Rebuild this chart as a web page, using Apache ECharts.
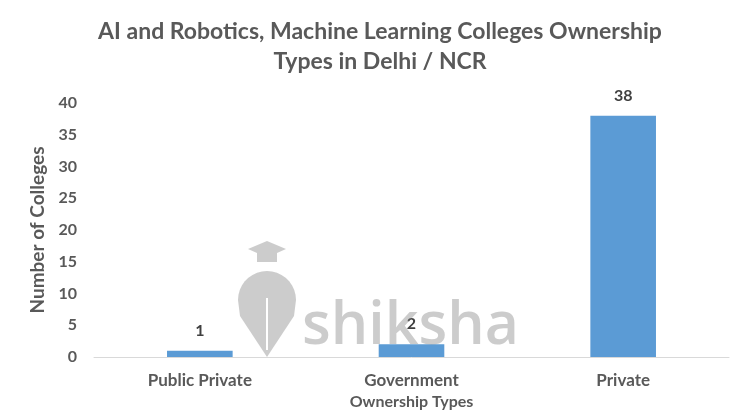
<!DOCTYPE html>
<html>
<head>
<meta charset="utf-8">
<script src="https://cdn.jsdelivr.net/npm/echarts@6/dist/echarts.min.js"></script>
<style>
  html, body { margin: 0; padding: 0; background: #fff; }
  #chart { width: 750px; height: 414px; }
</style>
</head>
<body>
<div id="chart"></div>
<script>
// Ownership types and college counts
const categories = ['Public Private', 'Government', 'Private'];
const collegeCounts = [1, 2, 38];
const yTicks = { min: 0, max: 40, interval: 5 };

const FONT = 'Lato, "Open Sans", sans-serif';
const GREY = '#595959';
const MARK = 'rgba(128,128,128,0.4)';

// Outline of the logo figure: rounded top arc closing into a point at the bottom
function figureOutline(cx, cy, r, tipY) {
  const pts = [[cx, tipY]];
  pts.push([cx - r + 2, cy + 16]);
  for (let a = 180; a <= 360; a += 10) {
    const rad = a * Math.PI / 180;
    pts.push([cx + r * Math.cos(rad), cy + r * Math.sin(rad)]);
  }
  pts.push([cx + r - 2, cy + 16]);
  return pts;
}

const chart = echarts.init(document.getElementById('chart'));
chart.setOption({
  animation: false,
  backgroundColor: '#ffffff',
  title: {
    text: 'AI and Robotics, Machine Learning Colleges Ownership\nTypes in Delhi / NCR',
    left: 375,
    textAlign: 'center',
    top: 12,
    textStyle: {
      fontFamily: FONT,
      fontWeight: 'bold',
      fontSize: 23,
      lineHeight: 30,
      color: GREY
    }
  },
  grid: { left: 94, right: 21, top: 103, bottom: 57, containLabel: false, outerBoundsMode: 'none' },
  xAxis: {
    type: 'category',
    data: categories,
    name: 'Ownership Types',
    nameLocation: 'middle',
    nameGap: 36,
    nameTextStyle: { fontFamily: FONT, fontWeight: 'bold', fontSize: 16, color: GREY },
    axisLine: { lineStyle: { color: '#d9d9d9', width: 1 } },
    axisTick: { show: false },
    axisLabel: { fontFamily: FONT, fontWeight: 'bold', fontSize: 17, color: GREY, margin: 15 }
  },
  yAxis: {
    type: 'value',
    min: yTicks.min,
    max: yTicks.max,
    interval: yTicks.interval,
    name: 'Number of Colleges',
    nameLocation: 'middle',
    nameGap: 41,
    nameTextStyle: { fontFamily: FONT, fontWeight: 'bold', fontSize: 19, color: GREY },
    axisLine: { show: false },
    axisTick: { show: false },
    splitLine: { show: false },
    axisLabel: { fontFamily: FONT, fontWeight: 'bold', fontSize: 16, color: GREY, margin: 17 }
  },
  series: [{
    type: 'bar',
    data: collegeCounts,
    barWidth: '31%',
    itemStyle: { color: '#5B9BD5' },
    label: {
      show: true,
      position: 'top',
      distance: 12,
      fontFamily: FONT,
      fontWeight: 'bold',
      fontSize: 16,
      color: '#404040'
    }
  }],
  graphic: [
    // watermark: mortarboard
    {
      type: 'polygon', z: 100, silent: true,
      shape: { points: [[248, 249], [267, 241], [286, 249], [277, 253], [277, 262], [257, 262], [257, 253]] },
      style: { fill: MARK }
    },
    // watermark: figure
    {
      type: 'polygon', z: 100, silent: true,
      shape: { points: figureOutline(267, 300, 29, 357) },
      style: { fill: MARK }
    },
    {
      type: 'line', z: 101, silent: true,
      shape: { x1: 267, y1: 298, x2: 267, y2: 350 },
      style: { stroke: '#ffffff', lineWidth: 2 }
    },
    {
      type: 'text', z: 100, silent: true,
      style: {
        x: 302, y: 357,
        text: 'shiksha',
        fontFamily: '"Open Sans", sans-serif',
        fontSize: 59,
        fontWeight: 600,
        verticalAlign: 'bottom',
        fill: MARK
      }
    }
  ]
});
</script>
</body>
</html>
